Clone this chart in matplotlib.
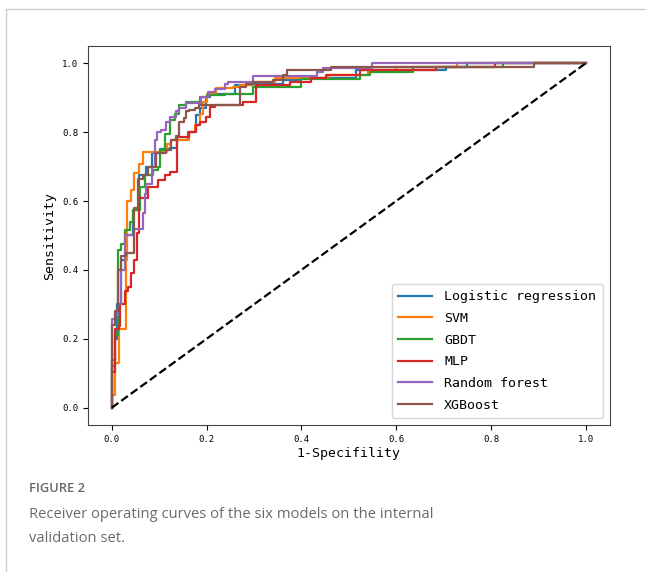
import matplotlib.pyplot as plt
from matplotlib.lines import Line2D

# ROC step points: at fpr[i] the curve rises to tpr[i]
lr_fpr = [0, 0, 0.008, 0.012, 0.02, 0.03, 0.045, 0.058, 0.073, 0.084, 0.101, 0.122, 0.137, 0.16, 0.178, 0.186, 0.198, 0.207, 0.26, 0.298, 0.362, 0.397, 0.516, 0.706, 0.75, 1.0]
lr_tpr = [0, 0.12, 0.2, 0.3, 0.43, 0.5, 0.574, 0.675, 0.70, 0.74, 0.75, 0.753, 0.777, 0.80, 0.85, 0.87, 0.902, 0.912, 0.937, 0.94, 0.951, 0.958, 0.98, 0.99, 1.0, 1.0]

svm_fpr = [0, 0, 0.006, 0.015, 0.031, 0.032, 0.041, 0.048, 0.057, 0.066, 0.116, 0.126, 0.164, 0.176, 0.186, 0.193, 0.2, 0.221, 0.256, 0.27, 0.298, 0.344, 0.457, 0.541, 0.6, 0.728, 1.0]
svm_tpr = [0, 0.037, 0.13, 0.23, 0.43, 0.60, 0.632, 0.68, 0.707, 0.743, 0.765, 0.777, 0.80, 0.82, 0.853, 0.888, 0.912, 0.927, 0.93, 0.937, 0.946, 0.958, 0.966, 0.98, 0.99, 1.0, 1.0]

gbdt_fpr = [0, 0, 0.006, 0.013, 0.02, 0.027, 0.038, 0.045, 0.059, 0.07, 0.087, 0.098, 0.101, 0.112, 0.122, 0.133, 0.143, 0.157, 0.186, 0.2, 0.238, 0.298, 0.40, 0.523, 0.544, 0.636, 0.825, 1.0]
gbdt_tpr = [0, 0.14, 0.21, 0.458, 0.475, 0.515, 0.54, 0.574, 0.641, 0.675, 0.69, 0.70, 0.748, 0.796, 0.835, 0.854, 0.878, 0.888, 0.902, 0.907, 0.912, 0.932, 0.954, 0.966, 0.975, 0.99, 1.0, 1.0]

mlp_fpr = [0, 0, 0.008, 0.015, 0.017, 0.027, 0.034, 0.04, 0.046, 0.054, 0.058, 0.077, 0.098, 0.112, 0.122, 0.137, 0.164, 0.178, 0.187, 0.198, 0.207, 0.218, 0.277, 0.305, 0.376, 0.421, 0.452, 0.523, 0.685, 0.808, 1.0]
mlp_tpr = [0, 0.104, 0.23, 0.237, 0.30, 0.34, 0.35, 0.39, 0.43, 0.506, 0.61, 0.64, 0.66, 0.675, 0.685, 0.786, 0.80, 0.82, 0.83, 0.845, 0.874, 0.878, 0.888, 0.937, 0.946, 0.958, 0.966, 0.98, 0.99, 1.0, 1.0]

rf_fpr = [0, 0, 0.006, 0.013, 0.02, 0.027, 0.048, 0.066, 0.071, 0.073, 0.085, 0.091, 0.096, 0.105, 0.115, 0.122, 0.136, 0.143, 0.157, 0.189, 0.203, 0.217, 0.238, 0.245, 0.298, 0.432, 0.446, 0.55, 1.0]
rf_tpr = [0, 0.257, 0.27, 0.30, 0.40, 0.50, 0.52, 0.565, 0.62, 0.65, 0.70, 0.777, 0.80, 0.806, 0.83, 0.845, 0.86, 0.87, 0.885, 0.902, 0.917, 0.926, 0.941, 0.946, 0.964, 0.975, 0.985, 1.0, 1.0]

xgb_fpr = [0, 0, 0.008, 0.013, 0.02, 0.031, 0.048, 0.055, 0.066, 0.077, 0.094, 0.115, 0.126, 0.135, 0.143, 0.152, 0.157, 0.164, 0.175, 0.184, 0.27, 0.284, 0.298, 0.34, 0.362, 0.369, 0.463, 0.89, 1.0]
xgb_tpr = [0, 0.24, 0.28, 0.40, 0.44, 0.45, 0.58, 0.665, 0.675, 0.70, 0.74, 0.748, 0.776, 0.79, 0.83, 0.84, 0.86, 0.864, 0.87, 0.878, 0.932, 0.94, 0.946, 0.951, 0.966, 0.98, 0.99, 1.0, 1.0]

names = ['Logistic regression', 'SVM', 'GBDT', 'MLP', 'Random forest', 'XGBoost']
curves = [(lr_fpr, lr_tpr), (svm_fpr, svm_tpr), (gbdt_fpr, gbdt_tpr),
          (mlp_fpr, mlp_tpr), (rf_fpr, rf_tpr), (xgb_fpr, xgb_tpr)]
colors = ['#1f77b4', '#ff7f0e', '#2ca02c', '#d62728', '#9467bd', '#8c564b']

mono = 'DejaVu Sans Mono'

fig = plt.figure(figsize=(6.46, 5.72), dpi=100)
ax = fig.add_axes([88 / 646, 1 - 425 / 572, 521.5 / 646, 379 / 572])

for (f, t), c, n in zip(curves, colors, names):
    ax.plot(f, t, color=c, lw=1.6, drawstyle='steps-post', label=n)
ax.plot([0, 1], [0, 1], 'k--', lw=1.6)

ax.set_xticks([0, 0.2, 0.4, 0.6, 0.8, 1.0])
ax.set_yticks([0, 0.2, 0.4, 0.6, 0.8, 1.0])
ax.set_xticklabels(['0.0', '0.2', '0.4', '0.6', '0.8', '1.0'], family=mono, fontsize=6.5)
ax.set_yticklabels(['0.0', '0.2', '0.4', '0.6', '0.8', '1.0'], family=mono, fontsize=6.5)
ax.set_xlabel('1-Specifility', family=mono, fontsize=9.5, labelpad=2)
ax.set_ylabel('Sensitivity', family=mono, fontsize=9.5)
for s in ax.spines.values():
    s.set_color('#444444')

handles = [Line2D([], [], color=c, lw=1.6) for c in colors]
ax.legend(handles, names, loc='lower right', prop={'family': mono, 'size': 9.5},
          labelspacing=0.66, handlelength=2.6, handletextpad=0.9, borderpad=0.5)

# page frame and caption
fig.add_artist(Line2D([5.5 / 646, 5.5 / 646], [0, 1 - 9 / 572], color='#cccccc', lw=1))
fig.add_artist(Line2D([5.5 / 646, 1], [1 - 9 / 572, 1 - 9 / 572], color='#cccccc', lw=1))
fig.text(29 / 646, 1 - 488 / 572, 'FIGURE 2', family='Open Sans', fontsize=9.3,
         color='#666666', va='center', weight='semibold')
fig.text(29 / 646, 1 - 515 / 572, 'Receiver operating curves of the six models on the internal',
         family='Open Sans', fontsize=10.6, color='#6a6a6a', va='center')
fig.text(29 / 646, 1 - 539 / 572, 'validation set.',
         family='Open Sans', fontsize=10.6, color='#6a6a6a', va='center')

fig.savefig('out.png', dpi=100)
